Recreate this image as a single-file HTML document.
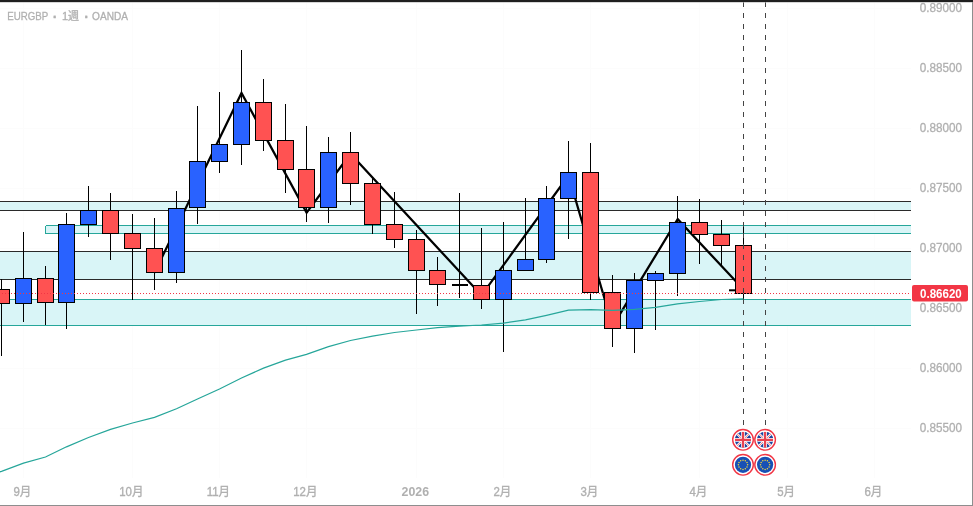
<!DOCTYPE html>
<html lang="ja"><head><meta charset="utf-8"><title>EURGBP</title>
<style>html,body{margin:0;padding:0;background:#fff;overflow:hidden}body{width:973px;height:506px}</style></head>
<body>
<svg width="973" height="506" viewBox="0 0 973 506" style="display:block">
<rect width="973" height="506" fill="#fff"/>
<g stroke="#fcfcfc" stroke-width="1" shape-rendering="crispEdges">
<line x1="23.5" y1="2" x2="23.5" y2="478"/>
<line x1="132.5" y1="2" x2="132.5" y2="478"/>
<line x1="219.5" y1="2" x2="219.5" y2="478"/>
<line x1="306.5" y1="2" x2="306.5" y2="478"/>
<line x1="416.5" y1="2" x2="416.5" y2="478"/>
<line x1="503.5" y1="2" x2="503.5" y2="478"/>
<line x1="590.5" y1="2" x2="590.5" y2="478"/>
<line x1="699.5" y1="2" x2="699.5" y2="478"/>
<line x1="787.5" y1="2" x2="787.5" y2="478"/>
<line x1="874.5" y1="2" x2="874.5" y2="478"/>
<line x1="0" y1="8.5" x2="911" y2="8.5"/>
<line x1="0" y1="68.5" x2="911" y2="68.5"/>
<line x1="0" y1="128.5" x2="911" y2="128.5"/>
<line x1="0" y1="188.5" x2="911" y2="188.5"/>
<line x1="0" y1="248.5" x2="911" y2="248.5"/>
<line x1="0" y1="308.5" x2="911" y2="308.5"/>
<line x1="0" y1="368.5" x2="911" y2="368.5"/>
<line x1="0" y1="428.5" x2="911" y2="428.5"/>
</g>
<rect x="0" y="201.5" width="911" height="9.0" fill="#d9f5f7"/>
<g stroke="#2a2a2a" stroke-width="1" shape-rendering="crispEdges"><line x1="0" y1="201.5" x2="911" y2="201.5"/><line x1="0" y1="210.5" x2="911" y2="210.5"/></g>
<rect x="45.5" y="225.5" width="865.5" height="8.0" fill="#d9f5f7"/>
<g stroke="#26a69a" stroke-width="1" shape-rendering="crispEdges"><line x1="45.5" y1="225.5" x2="911" y2="225.5"/><line x1="45.5" y1="233.5" x2="911" y2="233.5"/><line x1="45.5" y1="225.5" x2="45.5" y2="233.5"/></g>
<rect x="0" y="251.5" width="911" height="28.0" fill="#d9f5f7"/>
<g stroke="#2a2a2a" stroke-width="1" shape-rendering="crispEdges"><line x1="0" y1="251.5" x2="911" y2="251.5"/><line x1="0" y1="279.5" x2="911" y2="279.5"/></g>
<rect x="0" y="299.5" width="911" height="26.0" fill="#d9f5f7"/>
<g stroke="#26a69a" stroke-width="1" shape-rendering="crispEdges"><line x1="0" y1="299.5" x2="911" y2="299.5"/><line x1="0" y1="325.5" x2="911" y2="325.5"/></g>
<polyline fill="none" stroke="#000" stroke-width="2.25" stroke-linejoin="miter" points="154.5,272.7 241.5,93 306.6,212.6 350.5,153.8 481.5,295.3 568.5,175.5 612.6,326.2 677.7,219.2 744,290"/>
<line x1="729" y1="290.3" x2="744" y2="290.3" stroke="#000" stroke-width="2"/>
<line x1="1.5" y1="279.0" x2="1.5" y2="356.0" stroke="#000" stroke-width="1" shape-rendering="crispEdges"/>
<rect x="-6.5" y="289.5" width="16" height="14.0" fill="#ff5252" stroke="#000" stroke-width="1" shape-rendering="crispEdges"/>
<line x1="23.5" y1="232.0" x2="23.5" y2="322.0" stroke="#000" stroke-width="1" shape-rendering="crispEdges"/>
<rect x="15.5" y="278.5" width="16" height="25.0" fill="#2962ff" stroke="#000" stroke-width="1" shape-rendering="crispEdges"/>
<line x1="45.5" y1="266.0" x2="45.5" y2="325.0" stroke="#000" stroke-width="1" shape-rendering="crispEdges"/>
<rect x="37.5" y="278.5" width="16" height="24.0" fill="#ff5252" stroke="#000" stroke-width="1" shape-rendering="crispEdges"/>
<line x1="66.5" y1="213.0" x2="66.5" y2="329.0" stroke="#000" stroke-width="1" shape-rendering="crispEdges"/>
<rect x="58.5" y="224.5" width="16" height="78.0" fill="#2962ff" stroke="#000" stroke-width="1" shape-rendering="crispEdges"/>
<line x1="88.5" y1="186.0" x2="88.5" y2="237.0" stroke="#000" stroke-width="1" shape-rendering="crispEdges"/>
<rect x="80.5" y="210.5" width="16" height="14.0" fill="#2962ff" stroke="#000" stroke-width="1" shape-rendering="crispEdges"/>
<line x1="110.5" y1="193.0" x2="110.5" y2="260.0" stroke="#000" stroke-width="1" shape-rendering="crispEdges"/>
<rect x="102.5" y="210.5" width="16" height="23.0" fill="#ff5252" stroke="#000" stroke-width="1" shape-rendering="crispEdges"/>
<line x1="132.5" y1="214.0" x2="132.5" y2="300.0" stroke="#000" stroke-width="1" shape-rendering="crispEdges"/>
<rect x="124.5" y="233.5" width="16" height="15.0" fill="#ff5252" stroke="#000" stroke-width="1" shape-rendering="crispEdges"/>
<line x1="154.5" y1="218.0" x2="154.5" y2="290.0" stroke="#000" stroke-width="1" shape-rendering="crispEdges"/>
<rect x="146.5" y="248.5" width="16" height="24.0" fill="#ff5252" stroke="#000" stroke-width="1" shape-rendering="crispEdges"/>
<line x1="176.5" y1="191.0" x2="176.5" y2="283.0" stroke="#000" stroke-width="1" shape-rendering="crispEdges"/>
<rect x="168.5" y="208.5" width="16" height="64.0" fill="#2962ff" stroke="#000" stroke-width="1" shape-rendering="crispEdges"/>
<line x1="197.5" y1="106.0" x2="197.5" y2="224.0" stroke="#000" stroke-width="1" shape-rendering="crispEdges"/>
<rect x="189.5" y="161.5" width="16" height="46.0" fill="#2962ff" stroke="#000" stroke-width="1" shape-rendering="crispEdges"/>
<line x1="219.5" y1="92.0" x2="219.5" y2="173.0" stroke="#000" stroke-width="1" shape-rendering="crispEdges"/>
<rect x="211.5" y="144.5" width="16" height="17.0" fill="#2962ff" stroke="#000" stroke-width="1" shape-rendering="crispEdges"/>
<line x1="241.5" y1="50.0" x2="241.5" y2="165.0" stroke="#000" stroke-width="1" shape-rendering="crispEdges"/>
<rect x="233.5" y="102.5" width="16" height="42.0" fill="#2962ff" stroke="#000" stroke-width="1" shape-rendering="crispEdges"/>
<line x1="263.5" y1="79.0" x2="263.5" y2="151.0" stroke="#000" stroke-width="1" shape-rendering="crispEdges"/>
<rect x="255.5" y="102.5" width="16" height="38.0" fill="#ff5252" stroke="#000" stroke-width="1" shape-rendering="crispEdges"/>
<line x1="285.5" y1="104.0" x2="285.5" y2="193.0" stroke="#000" stroke-width="1" shape-rendering="crispEdges"/>
<rect x="277.5" y="140.5" width="16" height="29.0" fill="#ff5252" stroke="#000" stroke-width="1" shape-rendering="crispEdges"/>
<line x1="306.5" y1="126.0" x2="306.5" y2="222.0" stroke="#000" stroke-width="1" shape-rendering="crispEdges"/>
<rect x="298.5" y="169.5" width="16" height="38.0" fill="#ff5252" stroke="#000" stroke-width="1" shape-rendering="crispEdges"/>
<line x1="328.5" y1="137.0" x2="328.5" y2="223.0" stroke="#000" stroke-width="1" shape-rendering="crispEdges"/>
<rect x="320.5" y="152.5" width="16" height="55.0" fill="#2962ff" stroke="#000" stroke-width="1" shape-rendering="crispEdges"/>
<line x1="350.5" y1="132.0" x2="350.5" y2="205.0" stroke="#000" stroke-width="1" shape-rendering="crispEdges"/>
<rect x="342.5" y="152.5" width="16" height="31.0" fill="#ff5252" stroke="#000" stroke-width="1" shape-rendering="crispEdges"/>
<line x1="372.5" y1="178.0" x2="372.5" y2="234.0" stroke="#000" stroke-width="1" shape-rendering="crispEdges"/>
<rect x="364.5" y="183.5" width="16" height="41.0" fill="#ff5252" stroke="#000" stroke-width="1" shape-rendering="crispEdges"/>
<line x1="394.5" y1="192.0" x2="394.5" y2="248.0" stroke="#000" stroke-width="1" shape-rendering="crispEdges"/>
<rect x="386.5" y="224.5" width="16" height="15.0" fill="#ff5252" stroke="#000" stroke-width="1" shape-rendering="crispEdges"/>
<line x1="416.5" y1="230.0" x2="416.5" y2="314.0" stroke="#000" stroke-width="1" shape-rendering="crispEdges"/>
<rect x="408.5" y="239.5" width="16" height="31.0" fill="#ff5252" stroke="#000" stroke-width="1" shape-rendering="crispEdges"/>
<line x1="437.5" y1="257.0" x2="437.5" y2="306.0" stroke="#000" stroke-width="1" shape-rendering="crispEdges"/>
<rect x="429.5" y="270.5" width="16" height="14.0" fill="#ff5252" stroke="#000" stroke-width="1" shape-rendering="crispEdges"/>
<line x1="459.5" y1="193.0" x2="459.5" y2="298.0" stroke="#000" stroke-width="1" shape-rendering="crispEdges"/>
<line x1="451.5" y1="284.5" x2="467.5" y2="284.5" stroke="#000" stroke-width="2" shape-rendering="crispEdges"/>
<line x1="481.5" y1="228.0" x2="481.5" y2="309.0" stroke="#000" stroke-width="1" shape-rendering="crispEdges"/>
<rect x="473.5" y="285.5" width="16" height="14.0" fill="#ff5252" stroke="#000" stroke-width="1" shape-rendering="crispEdges"/>
<line x1="503.5" y1="222.0" x2="503.5" y2="352.0" stroke="#000" stroke-width="1" shape-rendering="crispEdges"/>
<rect x="495.5" y="270.5" width="16" height="29.0" fill="#2962ff" stroke="#000" stroke-width="1" shape-rendering="crispEdges"/>
<line x1="525.5" y1="198.0" x2="525.5" y2="271.0" stroke="#000" stroke-width="1" shape-rendering="crispEdges"/>
<rect x="517.5" y="259.5" width="16" height="11.0" fill="#2962ff" stroke="#000" stroke-width="1" shape-rendering="crispEdges"/>
<line x1="546.5" y1="186.0" x2="546.5" y2="263.0" stroke="#000" stroke-width="1" shape-rendering="crispEdges"/>
<rect x="538.5" y="198.5" width="16" height="61.0" fill="#2962ff" stroke="#000" stroke-width="1" shape-rendering="crispEdges"/>
<line x1="568.5" y1="141.0" x2="568.5" y2="239.0" stroke="#000" stroke-width="1" shape-rendering="crispEdges"/>
<rect x="560.5" y="172.5" width="16" height="26.0" fill="#2962ff" stroke="#000" stroke-width="1" shape-rendering="crispEdges"/>
<line x1="590.5" y1="143.0" x2="590.5" y2="300.0" stroke="#000" stroke-width="1" shape-rendering="crispEdges"/>
<rect x="582.5" y="172.5" width="16" height="120.0" fill="#ff5252" stroke="#000" stroke-width="1" shape-rendering="crispEdges"/>
<line x1="612.5" y1="275.0" x2="612.5" y2="347.0" stroke="#000" stroke-width="1" shape-rendering="crispEdges"/>
<rect x="604.5" y="292.5" width="16" height="36.0" fill="#ff5252" stroke="#000" stroke-width="1" shape-rendering="crispEdges"/>
<line x1="634.5" y1="273.0" x2="634.5" y2="353.0" stroke="#000" stroke-width="1" shape-rendering="crispEdges"/>
<rect x="626.5" y="280.5" width="16" height="48.0" fill="#2962ff" stroke="#000" stroke-width="1" shape-rendering="crispEdges"/>
<line x1="655.5" y1="271.0" x2="655.5" y2="330.0" stroke="#000" stroke-width="1" shape-rendering="crispEdges"/>
<rect x="647.5" y="273.5" width="16" height="7.0" fill="#2962ff" stroke="#000" stroke-width="1" shape-rendering="crispEdges"/>
<line x1="677.5" y1="196.0" x2="677.5" y2="296.0" stroke="#000" stroke-width="1" shape-rendering="crispEdges"/>
<rect x="669.5" y="222.5" width="16" height="51.0" fill="#2962ff" stroke="#000" stroke-width="1" shape-rendering="crispEdges"/>
<line x1="699.5" y1="199.0" x2="699.5" y2="264.0" stroke="#000" stroke-width="1" shape-rendering="crispEdges"/>
<rect x="691.5" y="222.5" width="16" height="12.0" fill="#ff5252" stroke="#000" stroke-width="1" shape-rendering="crispEdges"/>
<line x1="721.5" y1="220.0" x2="721.5" y2="266.0" stroke="#000" stroke-width="1" shape-rendering="crispEdges"/>
<rect x="713.5" y="234.5" width="16" height="11.0" fill="#ff5252" stroke="#000" stroke-width="1" shape-rendering="crispEdges"/>
<line x1="743.5" y1="226.0" x2="743.5" y2="300.0" stroke="#000" stroke-width="1" shape-rendering="crispEdges"/>
<rect x="735.5" y="245.5" width="16" height="48.0" fill="#ff5252" stroke="#000" stroke-width="1" shape-rendering="crispEdges"/>
<polyline fill="none" stroke="#26a69a" stroke-width="1.25" points="-1,472 1.5,471.4 23.5,463.2 45.5,457 66.5,446.8 88.5,437.5 110.5,429.4 132.5,423 154.5,417.4 176.5,408.8 197.5,399 219.5,389 241.5,378 263.5,368.2 285.5,360.2 306.5,354.4 328.5,346.6 350.5,340.5 372.5,336.1 394.5,332.5 416.5,330 437.5,327.7 459.5,326.1 481.5,325 503.5,323.1 525.5,319.9 546.5,315.3 568.5,310.1 590.5,309.6 612.5,310.4 634.5,309.3 655.5,307.3 677.5,303.8 699.5,301.5 721.5,299.5 743.5,298.9"/>
<line x1="743.5" y1="2" x2="743.5" y2="425" stroke="#444" stroke-width="1" stroke-dasharray="5 6" shape-rendering="crispEdges"/>
<line x1="765.5" y1="2" x2="765.5" y2="425" stroke="#444" stroke-width="1" stroke-dasharray="5 6" shape-rendering="crispEdges"/>
<line x1="-1" y1="293.5" x2="909.5" y2="293.5" stroke="#f23645" stroke-width="1" stroke-dasharray="1 2" shape-rendering="crispEdges"/>
<rect x="0" y="0" width="973" height="2" fill="#1f1f1f"/><rect x="0" y="2" width="973" height="1" fill="#b4b4b4" fill-opacity="0.55"/>
<rect x="972" y="2" width="1" height="504" fill="#8e8e8e"/>
<rect x="0" y="505" width="973" height="1" fill="#8e8e8e"/>
<text y="20.1" font-family="'Liberation Sans', 'Noto Sans CJK JP', sans-serif" font-size="11" fill="#b0b0b0" stroke="#b0b0b0" stroke-width="0.3"><tspan x="7.2" textLength="41" lengthAdjust="spacingAndGlyphs">EURGBP</tspan><tspan x="48.8" dy="2.2" font-weight="bold" font-size="14"> · </tspan><tspan x="61.9" dy="-2.2" textLength="17.2" lengthAdjust="spacingAndGlyphs">1週</tspan><tspan x="80.4" dy="2.2" font-weight="bold" font-size="14"> · </tspan><tspan x="92.1" dy="-2.2" textLength="35.9" lengthAdjust="spacingAndGlyphs">OANDA</tspan></text>
<text x="919.8" y="12.2" textLength="42.3" lengthAdjust="spacingAndGlyphs" font-family="'Liberation Sans', 'Noto Sans CJK JP', sans-serif" font-size="12" fill="#b0b0b0" stroke="#b0b0b0" stroke-width="0.3">0.89000</text>
<text x="919.8" y="72.1" textLength="42.3" lengthAdjust="spacingAndGlyphs" font-family="'Liberation Sans', 'Noto Sans CJK JP', sans-serif" font-size="12" fill="#b0b0b0" stroke="#b0b0b0" stroke-width="0.3">0.88500</text>
<text x="919.8" y="132.1" textLength="42.3" lengthAdjust="spacingAndGlyphs" font-family="'Liberation Sans', 'Noto Sans CJK JP', sans-serif" font-size="12" fill="#b0b0b0" stroke="#b0b0b0" stroke-width="0.3">0.88000</text>
<text x="919.8" y="192.0" textLength="42.3" lengthAdjust="spacingAndGlyphs" font-family="'Liberation Sans', 'Noto Sans CJK JP', sans-serif" font-size="12" fill="#b0b0b0" stroke="#b0b0b0" stroke-width="0.3">0.87500</text>
<text x="919.8" y="251.9" textLength="42.3" lengthAdjust="spacingAndGlyphs" font-family="'Liberation Sans', 'Noto Sans CJK JP', sans-serif" font-size="12" fill="#b0b0b0" stroke="#b0b0b0" stroke-width="0.3">0.87000</text>
<text x="919.8" y="311.8" textLength="42.3" lengthAdjust="spacingAndGlyphs" font-family="'Liberation Sans', 'Noto Sans CJK JP', sans-serif" font-size="12" fill="#b0b0b0" stroke="#b0b0b0" stroke-width="0.3">0.86500</text>
<text x="919.8" y="371.8" textLength="42.3" lengthAdjust="spacingAndGlyphs" font-family="'Liberation Sans', 'Noto Sans CJK JP', sans-serif" font-size="12" fill="#b0b0b0" stroke="#b0b0b0" stroke-width="0.3">0.86000</text>
<text x="919.8" y="431.7" textLength="42.3" lengthAdjust="spacingAndGlyphs" font-family="'Liberation Sans', 'Noto Sans CJK JP', sans-serif" font-size="12" fill="#b0b0b0" stroke="#b0b0b0" stroke-width="0.3">0.85500</text>
<text transform="translate(22.3,496.3) scale(0.955,1)" text-anchor="middle" font-family="'Liberation Sans', 'Noto Sans CJK JP', sans-serif" font-size="12" fill="#b0b0b0" stroke="#b0b0b0" stroke-width="0.35">9月</text>
<text transform="translate(131.3,496.3) scale(0.955,1)" text-anchor="middle" font-family="'Liberation Sans', 'Noto Sans CJK JP', sans-serif" font-size="12" fill="#b0b0b0" stroke="#b0b0b0" stroke-width="0.35">10月</text>
<text transform="translate(218.3,496.3) scale(0.955,1)" text-anchor="middle" font-family="'Liberation Sans', 'Noto Sans CJK JP', sans-serif" font-size="12" fill="#b0b0b0" stroke="#b0b0b0" stroke-width="0.35">11月</text>
<text transform="translate(305.3,496.3) scale(0.955,1)" text-anchor="middle" font-family="'Liberation Sans', 'Noto Sans CJK JP', sans-serif" font-size="12" fill="#b0b0b0" stroke="#b0b0b0" stroke-width="0.35">12月</text>
<text transform="translate(415.3,496.3) scale(1.03,1)" text-anchor="middle" font-family="'Liberation Sans', 'Noto Sans CJK JP', sans-serif" font-size="12" fill="#b0b0b0" font-weight="bold">2026</text>
<text transform="translate(502.3,496.3) scale(0.955,1)" text-anchor="middle" font-family="'Liberation Sans', 'Noto Sans CJK JP', sans-serif" font-size="12" fill="#b0b0b0" stroke="#b0b0b0" stroke-width="0.35">2月</text>
<text transform="translate(589.3,496.3) scale(0.955,1)" text-anchor="middle" font-family="'Liberation Sans', 'Noto Sans CJK JP', sans-serif" font-size="12" fill="#b0b0b0" stroke="#b0b0b0" stroke-width="0.35">3月</text>
<text transform="translate(698.3,496.3) scale(0.955,1)" text-anchor="middle" font-family="'Liberation Sans', 'Noto Sans CJK JP', sans-serif" font-size="12" fill="#b0b0b0" stroke="#b0b0b0" stroke-width="0.35">4月</text>
<text transform="translate(786.1,496.3) scale(0.955,1)" text-anchor="middle" font-family="'Liberation Sans', 'Noto Sans CJK JP', sans-serif" font-size="12" fill="#b0b0b0" stroke="#b0b0b0" stroke-width="0.35">5月</text>
<text transform="translate(873.4,496.3) scale(0.955,1)" text-anchor="middle" font-family="'Liberation Sans', 'Noto Sans CJK JP', sans-serif" font-size="12" fill="#b0b0b0" stroke="#b0b0b0" stroke-width="0.35">6月</text>
<rect x="912" y="285" width="56" height="16.5" rx="2" fill="#f23645"/>
<text x="920" y="297.7" textLength="41.8" lengthAdjust="spacingAndGlyphs" font-family="'Liberation Sans', 'Noto Sans CJK JP', sans-serif" font-size="12" font-weight="bold" fill="#fff">0.86620</text>
<circle cx="743" cy="439.8" r="10.3" fill="#fff" stroke="#f23645" stroke-width="1.4"/>
<clipPath id="c1"><circle cx="743" cy="439.8" r="8.1"/></clipPath>
<g clip-path="url(#c1)"><rect x="735" y="431.8" width="16" height="16" fill="#1b449e"/><path d="M735 431.8L751 447.8M751 431.8L735 447.8" stroke="#fff" stroke-width="2.3"/><path d="M735 431.8L751 447.8M751 431.8L735 447.8" stroke="#ec4a57" stroke-width="0.8"/><path d="M743 431.8V447.8M735 439.8H751" stroke="#fff" stroke-width="3.7"/><path d="M743 431.8V447.8M735 439.8H751" stroke="#e8414f" stroke-width="2.25"/></g>
<circle cx="765.1" cy="439.8" r="10.3" fill="#fff" stroke="#f23645" stroke-width="1.4"/>
<clipPath id="c2"><circle cx="765.1" cy="439.8" r="8.1"/></clipPath>
<g clip-path="url(#c2)"><rect x="757.1" y="431.8" width="16" height="16" fill="#1b449e"/><path d="M757.1 431.8L773.1 447.8M773.1 431.8L757.1 447.8" stroke="#fff" stroke-width="2.3"/><path d="M757.1 431.8L773.1 447.8M773.1 431.8L757.1 447.8" stroke="#ec4a57" stroke-width="0.8"/><path d="M765.1 431.8V447.8M757.1 439.8H773.1" stroke="#fff" stroke-width="3.7"/><path d="M765.1 431.8V447.8M757.1 439.8H773.1" stroke="#e8414f" stroke-width="2.25"/></g>
<circle cx="743" cy="464.8" r="10.3" fill="#fff" stroke="#f23645" stroke-width="1.4"/>
<circle cx="743" cy="464.8" r="8.1" fill="#1750b5"/>
<circle cx="743.00" cy="460.20" r="0.75" fill="#f5d43a"/>
<circle cx="745.30" cy="460.82" r="0.75" fill="#f5d43a"/>
<circle cx="746.98" cy="462.50" r="0.75" fill="#f5d43a"/>
<circle cx="747.60" cy="464.80" r="0.75" fill="#f5d43a"/>
<circle cx="746.98" cy="467.10" r="0.75" fill="#f5d43a"/>
<circle cx="745.30" cy="468.78" r="0.75" fill="#f5d43a"/>
<circle cx="743.00" cy="469.40" r="0.75" fill="#f5d43a"/>
<circle cx="740.70" cy="468.78" r="0.75" fill="#f5d43a"/>
<circle cx="739.02" cy="467.10" r="0.75" fill="#f5d43a"/>
<circle cx="738.40" cy="464.80" r="0.75" fill="#f5d43a"/>
<circle cx="739.02" cy="462.50" r="0.75" fill="#f5d43a"/>
<circle cx="740.70" cy="460.82" r="0.75" fill="#f5d43a"/>
<circle cx="765.1" cy="464.8" r="10.3" fill="#fff" stroke="#f23645" stroke-width="1.4"/>
<circle cx="765.1" cy="464.8" r="8.1" fill="#1750b5"/>
<circle cx="765.10" cy="460.20" r="0.75" fill="#f5d43a"/>
<circle cx="767.40" cy="460.82" r="0.75" fill="#f5d43a"/>
<circle cx="769.08" cy="462.50" r="0.75" fill="#f5d43a"/>
<circle cx="769.70" cy="464.80" r="0.75" fill="#f5d43a"/>
<circle cx="769.08" cy="467.10" r="0.75" fill="#f5d43a"/>
<circle cx="767.40" cy="468.78" r="0.75" fill="#f5d43a"/>
<circle cx="765.10" cy="469.40" r="0.75" fill="#f5d43a"/>
<circle cx="762.80" cy="468.78" r="0.75" fill="#f5d43a"/>
<circle cx="761.12" cy="467.10" r="0.75" fill="#f5d43a"/>
<circle cx="760.50" cy="464.80" r="0.75" fill="#f5d43a"/>
<circle cx="761.12" cy="462.50" r="0.75" fill="#f5d43a"/>
<circle cx="762.80" cy="460.82" r="0.75" fill="#f5d43a"/>
</svg>
</body></html>
